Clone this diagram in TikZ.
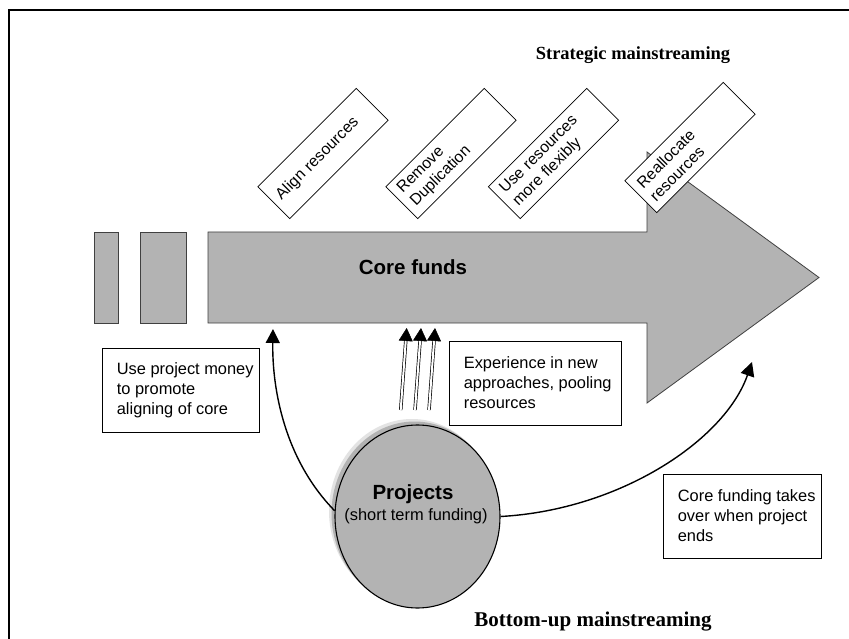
\documentclass[tikz,border=0pt]{standalone}
\usepackage{fontspec}
\setmainfont{Liberation Sans}
\newfontfamily\titlefont{Liberation Serif}
\usetikzlibrary{arrows.meta,shapes.geometric,calc}
\definecolor{coregray}{RGB}{179,179,179}
\definecolor{edgegray}{RGB}{64,64,64}
\begin{document}
\begin{tikzpicture}[x=1pt,y=-1pt,
  funds/.style={fill=coregray, draw=edgegray, line width=0.8pt},
  box/.style={draw=black, fill=white, line width=0.7pt, minimum height=84pt},
  boxtext/.style={anchor=west, xshift=15pt, align=left, inner sep=0pt,
    font=\fontsize{16.4}{20}\selectfont},
  tilted/.style={draw=black, fill=white, line width=0.7pt, rotate=45,
    minimum width=139pt, minimum height=45pt, text width=125pt,
    inner xsep=7pt, inner ysep=2pt, align=left,
    font=\fontsize{15.8}{18.5}\selectfont},
  titletext/.style={font=\titlefont\bfseries\fontsize{18.5}{22}\selectfont},
  link/.style={line width=1.4pt, -{Triangle[width=14pt,length=14pt]}},
  dblshaft/.style={double=white, double distance=2pt, line width=0.7pt},
  headtip/.style={line width=0.5pt, -{Triangle[width=14pt,length=13pt]}}
]
\useasboundingbox (0,0) rectangle (849,639);
\fill[white] (0,0) rectangle (849,639);

% frame
\draw[line width=2pt] (9.3,639) -- (9.3,10.3) -- (849,10.3);

% core funds arrow
\draw[funds] (208,232) -- (647,232) -- (647,152) -- (819,277.5) -- (647,403)
  -- (647,323) -- (208,323) -- cycle;
\draw[funds] (94,232) rectangle (118,323);
\draw[funds] (140,232) rectangle (186,323);
\node[font=\bfseries\fontsize{20.5}{24}\selectfont] (core) at (413,267) {Core funds};

% tilted boxes
\node[tilted] (align) at (323,153.5) {Align resources};
\node[tilted] (remove) at (451,153.5) {Remove\\Duplication};
\node[tilted] (flex) at (553.5,153.5) {Use resources\\more flexibly};
\node[tilted] (realloc) at (690,147.5) {Reallocate\\resources};

% text boxes
\node[box, minimum width=157pt,
  label={[boxtext]west:{Use project money\\to promote\\aligning of core}}]
  (useproj) at (180.5,390) {};
\node[box, minimum width=172pt,
  label={[boxtext]west:{Experience in new\\approaches, pooling\\resources}}]
  (exper) at (535,383) {};
\node[box, minimum width=158pt,
  label={[boxtext]west:{Core funding takes\\over when project\\ends}}]
  (takeover) at (742,516) {};

% projects circle with shadow
\fill[gray!22] (412,511) ellipse [x radius=83, y radius=92];
\fill[gray!60] (414.5,513.5) ellipse [x radius=83, y radius=92];
\node[ellipse, draw=black, line width=1.1pt, fill=coregray, minimum width=165pt,
  minimum height=183pt, inner sep=0pt] (proj) at (417.5,516.5) {};
\node[font=\bfseries\fontsize{20.5}{24}\selectfont] (projname) at (413,494) {Projects};
\node[font=\fontsize{16.4}{20}\selectfont] (projsub) at (416,516) {(short term funding)};

% connectors
\coordinate (aimL) at (273,329);
\coordinate (aimR) at (752,362);
\draw[link] (proj.176) .. controls (285,460) and (272,390) .. (aimL);
\draw[link] (proj.east) .. controls (620,510) and (725,440) .. (aimR);

\foreach \i/\xs/\xt in {1/400.7/406.7, 2/415/421, 3/429/435} {
  \coordinate (s\i) at (\xs,410);
  \coordinate (t\i) at (\xt,328);
  \draw[dblshaft] (s\i) -- ($(t\i)!12pt!(s\i)$);
  \draw[headtip] ($(t\i)!13pt!(s\i)$) -- (t\i);
}

% titles
\node[titletext] (strat) at (633,55) {Strategic mainstreaming};
\node[titletext, font=\titlefont\bfseries\fontsize{21}{25}\selectfont] (bottomup) at (593,622) {Bottom-up mainstreaming};
\end{tikzpicture}
\end{document}
